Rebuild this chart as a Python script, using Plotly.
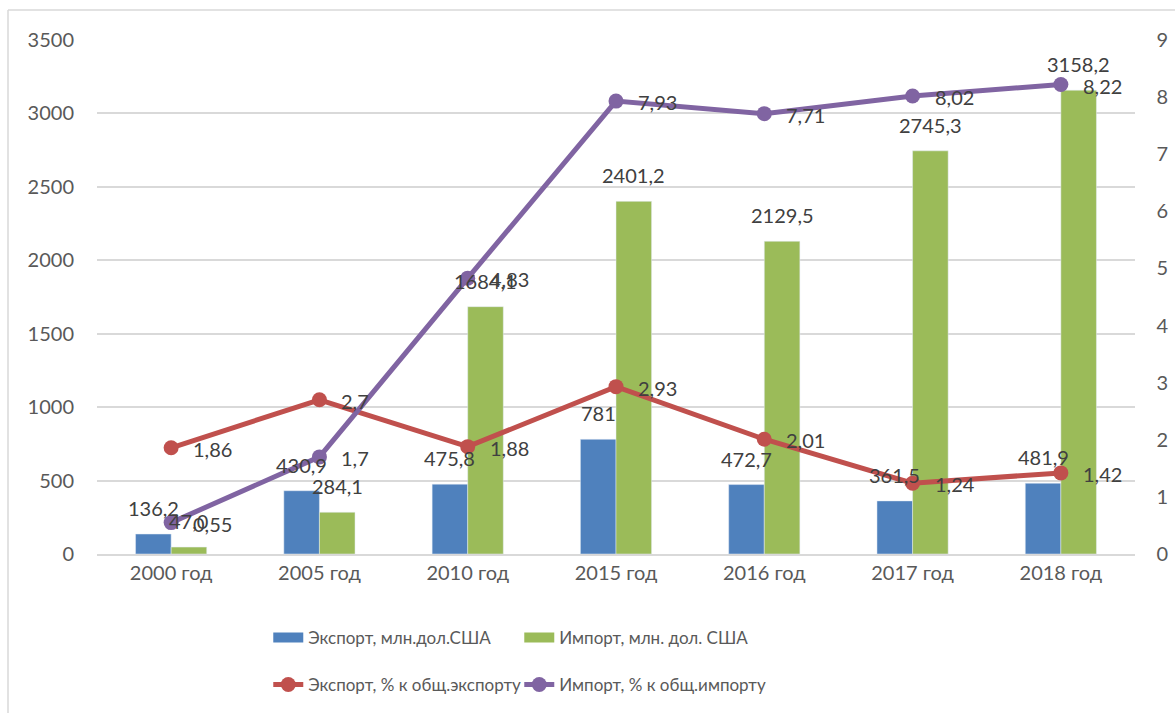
import plotly.graph_objects as go

categories = ["2000 год", "2005 год", "2010 год", "2015 год", "2016 год", "2017 год", "2018 год"]
export_mln = [136.2, 430.9, 475.8, 781, 472.7, 361.5, 481.9]
import_mln = [47.0, 284.1, 1684.1, 2401.2, 2129.5, 2745.3, 3158.2]
export_pct = [1.86, 2.7, 1.88, 2.93, 2.01, 1.24, 1.42]
import_pct = [0.55, 1.7, 4.83, 7.93, 7.71, 8.02, 8.22]

export_mln_lbl = ["136,2", "430,9", "475,8", "781", "472,7", "361,5", "481,9"]
import_mln_lbl = ["47,0", "284,1", "1684,1", "2401,2", "2129,5", "2745,3", "3158,2"]
export_pct_lbl = ["1,86", "2,7", "1,88", "2,93", "2,01", "1,24", "1,42"]
import_pct_lbl = ["0,55", "1,7", "4,83", "7,93", "7,71", "8,02", "8,22"]

left_ticks = [0, 500, 1000, 1500, 2000, 2500, 3000, 3500]
right_ticks = [0, 1, 2, 3, 4, 5, 6, 7, 8, 9]

names = ["Экспорт, млн.дол.США", "Импорт, млн. дол. США",
         "Экспорт, % к общ.экспорту", "Импорт, % к общ.импорту"]

BLUE, GREEN, RED, PURPLE = "#4F81BD", "#9BBB59", "#C0504D", "#8064A2"
FONT = "Lato, Open Sans, sans-serif"
TXT = "#404040"
AX = "#595959"
NB = "\u00a0"

fig = go.Figure()
fig.add_trace(go.Bar(x=categories, y=export_mln, name=names[0], marker_color=BLUE,
                     showlegend=False))
fig.add_trace(go.Bar(x=categories, y=import_mln, name=names[1], marker_color=GREEN,
                     showlegend=False))
# legend entries for the bar series (wide rectangular swatches, no marks drawn)
fig.add_trace(go.Scatter(x=[None], y=[None], name=names[0], mode="lines",
                         line=dict(color=BLUE, width=12), legend="legend"))
fig.add_trace(go.Scatter(x=[None], y=[None], name=names[1], mode="lines",
                         line=dict(color=GREEN, width=12), legend="legend"))
fig.add_trace(go.Scatter(x=categories, y=export_pct, name=names[2], yaxis="y2",
                         mode="lines+markers", line=dict(color=RED, width=5),
                         marker=dict(size=15, color=RED), cliponaxis=False,
                         legend="legend2"))
fig.add_trace(go.Scatter(x=categories, y=import_pct, name=names[3], yaxis="y2",
                         mode="lines+markers", line=dict(color=PURPLE, width=5),
                         marker=dict(size=15, color=PURPLE), cliponaxis=False,
                         legend="legend2"))

# data labels
lblfont = dict(family=FONT, size=20, color=TXT)
annotations = []
for c, v, t in zip(categories, export_mln, export_mln_lbl):
    annotations.append(dict(x=c, y=v, xref="x", yref="y", text=t, showarrow=False,
                            xshift=-17.8, yshift=26, font=lblfont))
for c, v, t in zip(categories, import_mln, import_mln_lbl):
    annotations.append(dict(x=c, y=v, xref="x", yref="y", text=t, showarrow=False,
                            xshift=17.8, yshift=26, font=lblfont))
for c, v, t in zip(categories, export_pct, export_pct_lbl):
    annotations.append(dict(x=c, y=v, xref="x", yref="y2", text=t, showarrow=False,
                            xanchor="left", xshift=20, yshift=-1, font=lblfont))
for c, v, t in zip(categories, import_pct, import_pct_lbl):
    annotations.append(dict(x=c, y=v, xref="x", yref="y2", text=t, showarrow=False,
                            xanchor="left", xshift=20, yshift=-1, font=lblfont))

fig.update_layout(
    width=1175, height=713,
    margin=dict(l=97, r=40, t=40, b=159),
    paper_bgcolor="white", plot_bgcolor="white",
    font=dict(family=FONT, size=20, color=AX),
    barmode="group", bargap=0.52, bargroupgap=0,
    xaxis=dict(showgrid=False, showline=True, linecolor="#D9D9D9", linewidth=2,
               ticks="", automargin=False, tickfont=dict(size=20, color=AX)),
    yaxis=dict(range=[0, 3500], tickvals=left_ticks, showgrid=True, gridcolor="#D9D9D9",
               gridwidth=1.5, zeroline=False, showline=False, ticks="", automargin=False,
               ticklabelstandoff=22, tickfont=dict(size=20, color=AX)),
    yaxis2=dict(range=[0, 9], tickvals=right_ticks,
                ticktext=[NB * 4 + str(v) for v in right_ticks],
                overlaying="y", side="right", showgrid=False, automargin=False,
                zeroline=False, showline=False, ticks="",
                tickfont=dict(size=20, color=AX)),
    legend=dict(orientation="h", x=0.165, xanchor="left",
                yref="container", y=1 - 638 / 713, yanchor="middle",
                font=dict(size=17, color=AX), entrywidth=206,
                bgcolor="rgba(0,0,0,0)"),
    legend2=dict(orientation="h", x=0.165, xanchor="left",
                 yref="container", y=1 - 685 / 713, yanchor="middle",
                 font=dict(size=17, color=AX), entrywidth=206,
                 bgcolor="rgba(0,0,0,0)"),
    showlegend=True,
    annotations=annotations,
)

# chart-area border (left and top edges visible in the reference)
fig.add_shape(type="line", xref="paper", yref="paper",
              x0=(8 - 97) / 1038, x1=(1175 - 97) / 1038,
              y0=(554 - 10) / 514, y1=(554 - 10) / 514,
              line=dict(color="#D9D9D9", width=1.5))
fig.add_shape(type="line", xref="paper", yref="paper",
              x0=(8 - 97) / 1038, x1=(8 - 97) / 1038,
              y0=(554 - 713) / 514, y1=(554 - 10) / 514,
              line=dict(color="#D9D9D9", width=1.5))

fig.write_html("out.html", config={"displayModeBar": False},
               post_script="document.body.style.margin='0';")
